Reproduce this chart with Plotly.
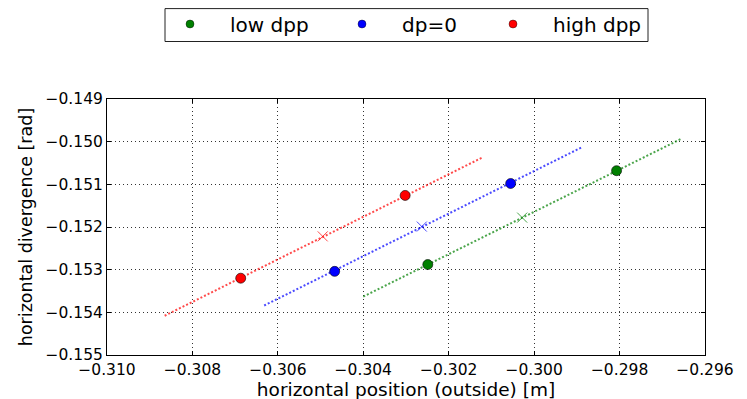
import plotly.graph_objects as go

# ---- data ----
series_names = ["low dpp", "dp=0", "high dpp"]
series_colors = ["#008000", "#0000ff", "#ff0000"]

low_dot_x = [-0.30249, -0.29807]
low_dot_y = [-0.15288, -0.15068]
low_cross_x = [-0.30028]
low_cross_y = [-0.15178]
low_line_x = [-0.30400, -0.29655]
low_line_y = [-0.15363, -0.14993]

dp0_dot_x = [-0.30467, -0.30055]
dp0_dot_y = [-0.15304, -0.15098]
dp0_cross_x = [-0.30263]
dp0_cross_y = [-0.15199]
dp0_line_x = [-0.30632, -0.29888]
dp0_line_y = [-0.15384, -0.15013]

high_dot_x = [-0.30687, -0.30302]
high_dot_y = [-0.15320, -0.15126]
high_cross_x = [-0.30495]
high_cross_y = [-0.15222]
high_line_x = [-0.30865, -0.30121]
high_line_y = [-0.15408, -0.15037]

x_range = [-0.310, -0.296]
y_range = [-0.155, -0.149]

groups = [
    (low_dot_x, low_dot_y, low_cross_x, low_cross_y, low_line_x, low_line_y),
    (dp0_dot_x, dp0_dot_y, dp0_cross_x, dp0_cross_y, dp0_line_x, dp0_line_y),
    (high_dot_x, high_dot_y, high_cross_x, high_cross_y, high_line_x, high_line_y),
]

# the page body adds an 8px offset; figure coordinates compensate for it
OFF = 8
W, H = 747, 399
ML, MT = 107 - OFF, 99 - OFF
PW, PH = 598, 256
MR, MB = W - ML - PW, H - MT - PH

fig = go.Figure()

for (dx, dy, cx, cy, lx, ly), name, col in zip(groups, series_names, series_colors):
    fig.add_trace(go.Scatter(x=lx, y=ly, mode="lines", showlegend=False,
                             line=dict(color=col, width=2, dash="2px,2px"), opacity=0.7,
                             hoverinfo="skip"))
    fig.add_trace(go.Scatter(x=cx, y=cy, mode="markers", showlegend=False,
                             marker=dict(symbol="x-thin", size=10, line=dict(color=col, width=1)),
                             opacity=0.7))
    fig.add_trace(go.Scatter(x=dx, y=dy, mode="markers", showlegend=False,
                             marker=dict(symbol="circle", size=10, color=col,
                                         line=dict(color="#000000", width=0.6))))

legend_ids = ["legend", "legend2", "legend3"]
legend_text_px = [230, 402, 553]   # left edge of each legend label, screen pixels
for name, col, lid in zip(series_names, series_colors, legend_ids):
    fig.add_trace(go.Scatter(x=[None], y=[None], mode="markers", name=name, legend=lid,
                             marker=dict(symbol="circle", size=8, color=col,
                                         line=dict(color="#000000", width=0.4))))

axis_common = dict(
    showline=True, linecolor="#000000", linewidth=1, mirror="ticks",
    ticks="inside", ticklen=4, tickcolor="#000000", tickwidth=1,
    showgrid=True, gridcolor="#333333", griddash="1px,3px", gridwidth=1,
    zeroline=False, tickformat=".3f", automargin=False,
    tickfont=dict(family="DejaVu Sans", size=15.5, color="#000000"),
)

legend_common = dict(orientation="h", xref="container", yref="container",
                     yanchor="middle", xanchor="left", y=1 - (24 - OFF) / H,
                     borderwidth=0, bgcolor="rgba(0,0,0,0)",
                     font=dict(size=20, family="DejaVu Sans", color="#000000"),
                     itemwidth=70)

layout_legends = {}
for lid, tx in zip(legend_ids, legend_text_px):
    layout_legends[lid] = dict(x=(tx - OFF - 80) / W, **legend_common)

fig.update_layout(
    width=W, height=H,
    margin=dict(l=ML, r=MR, t=MT, b=MB, autoexpand=False),
    paper_bgcolor="white", plot_bgcolor="white",
    font=dict(family="DejaVu Sans", color="#000000"),
    xaxis=dict(range=x_range, dtick=0.002, tick0=-0.310,
               title=dict(text="horizontal position (outside) [m]",
                          font=dict(size=18.5), standoff=2),
               **axis_common),
    yaxis=dict(range=y_range, dtick=0.001, tick0=-0.155,
               title=dict(text="horizontal divergence [rad]",
                          font=dict(size=17.5), standoff=8),
               **axis_common),
    shapes=[dict(type="rect", xref="paper", yref="paper",
                 x0=(165 - 107) / PW, x1=(648 - 107) / PW,
                 y0=1 + (99 - 41.5) / PH, y1=1 + (99 - 8.6) / PH,
                 line=dict(color="#222222", width=1), fillcolor="white", layer="below")],
    **layout_legends,
)

fig.write_html("out.html")
